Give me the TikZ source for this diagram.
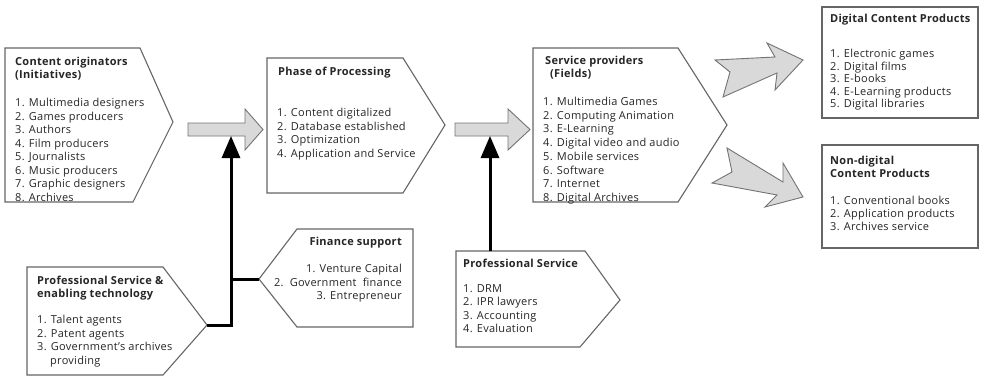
\documentclass[tikz,border=0pt]{standalone}
\usepackage{fontspec}
\setmainfont{Open Sans}[LetterSpace=2.5]
\usetikzlibrary{arrows.meta, positioning}

\begin{document}
\begin{tikzpicture}[x=1pt, y=-1pt,
  every node/.style={font=\fontsize{11}{13.5}\selectfont, text=black!85, inner sep=0pt},
  frame/.style={draw=black!60, line width=1.1pt, fill=white},
  title/.style={font=\fontsize{11}{13}\selectfont\bfseries, anchor=north west, align=left},
  items/.style={anchor=north west, align=left},
  fat/.style={draw=black!55, line width=0.9pt, fill=black!15, line join=miter},
  feed/.style={line width=3pt, -{Triangle[length=22pt, width=18pt]}},
  branch/.style={line width=3pt}
]
  \useasboundingbox (0,0) rectangle (981,377);

  % pentagons and boxes
  \draw[frame] (5,48) -- (140,48) -- (173,122) coordinate (orig-tip) -- (133,202) -- (5,202) -- cycle;
  \draw[frame] (267,58) -- (403,58) -- (445,125) coordinate (proc-tip) -- (403,193) -- (267,193) -- cycle;
  \draw[frame] (533,48) -- (678,48) -- (727,125) coordinate (serv-tip) -- (678,202) -- (533,202) -- cycle;
  \draw[frame] (27,267) -- (163,267) -- (207,325) coordinate (tech-tip) -- (163,375) -- (27,375) -- cycle;
  \draw[frame] (259,279) coordinate (fin-tip) -- (297,229) -- (413,229) -- (413,327) -- (297,327) -- cycle;
  \draw[frame] (456,251) coordinate (prof-top) -- (585,251) -- (620,300) -- (580,347) -- (456,347) -- cycle;
  \draw[frame] (822,7) rectangle (978,118);
  \draw[frame] (822,145) rectangle (978,248);

  % grey block arrows
  \draw[fat] (188,123) -- (245,123) -- (245,109) -- (263,129.5) -- (245,150) -- (245,136) -- (188,136) -- cycle;
  \coordinate (move1-foot) at (231,136);
  \draw[fat] (455,123) -- (508,123) -- (508,109) -- (530,129.5) -- (508,150) -- (508,136) -- (455,136) -- cycle;
  \coordinate (move2-foot) at (490,136);
  \draw[fat] (715,60) -- (775,57) -- (767,43) -- (803,60) -- (775,90) -- (777,73) -- (723,97) -- (730,72) -- cycle;
  \draw[fat] (727,148) -- (783,182) -- (783,163) -- (803,197) -- (765,207) -- (777,195) -- (712,183) -- (732,172) -- cycle;

  % support lines
  \draw[feed] (tech-tip) -| (move1-foot);
  \draw[branch] (fin-tip) -- (fin-tip -| move1-foot);
  \draw[feed] (490,251) -- (move2-foot);

  % texts
  \node[title] (orig-title) at (15,57) {Content originators\\(Initiatives)};
  \node[items] (orig-list) at (15,98) {1. Multimedia designers\\2. Games producers\\3. Authors\\4. Film producers\\5. Journalists\\6. Music producers\\7. Graphic designers\\8. Archives};

  \node[title] (proc-title) at (278,67) {Phase of Processing};
  \node[items] (proc-list) at (277,108) {1. Content digitalized\\2. Database established\\3. Optimization\\4. Application and Service};

  \node[title] (serv-title) at (545,56) {Service providers\\\hspace*{5pt}(Fields)};
  \node[items, font=\fontsize{11}{13.7}\selectfont] (serv-list) at (543,97) {1. Multimedia Games\\2. Computing Animation\\3. E-Learning\\4. Digital video and audio\\5. Mobile services\\6. Software\\7. Internet\\8. Digital Archives};

  \node[title] (tech-title) at (37,276) {Professional Service \&\\enabling technology};
  \node[items] (tech-list) at (37,315) {1. Talent agents\\2. Patent agents\\3. Government's archives\\\hspace*{13pt}providing};

  \node[title, anchor=north east, align=right] (fin-title) at (402,237) {Finance support};
  \node[items, anchor=north east, align=right] (fin-list) at (402,264) {1. Venture Capital\\2.\ \ Government\ \ finance\\3. Entrepreneur};

  \node[title] (prof-title) at (463,259) {Professional Service};
  \node[items] (prof-list) at (463,284) {1. DRM\\2. IPR lawyers\\3. Accounting\\4. Evaluation};

  \node[title] (dig-title) at (830,14) {Digital Content Products};
  \node[items, font=\fontsize{11}{12.5}\selectfont] (dig-list) at (830,49) {1. Electronic games\\2. Digital films\\3. E-books\\4. E-Learning products\\5. Digital libraries};

  \node[title] (non-title) at (830,156) {Non-digital\\Content Products};
  \node[items, font=\fontsize{11}{13}\selectfont] (non-list) at (830,196) {1. Conventional books\\2. Application products\\3. Archives service};
\end{tikzpicture}
\end{document}
